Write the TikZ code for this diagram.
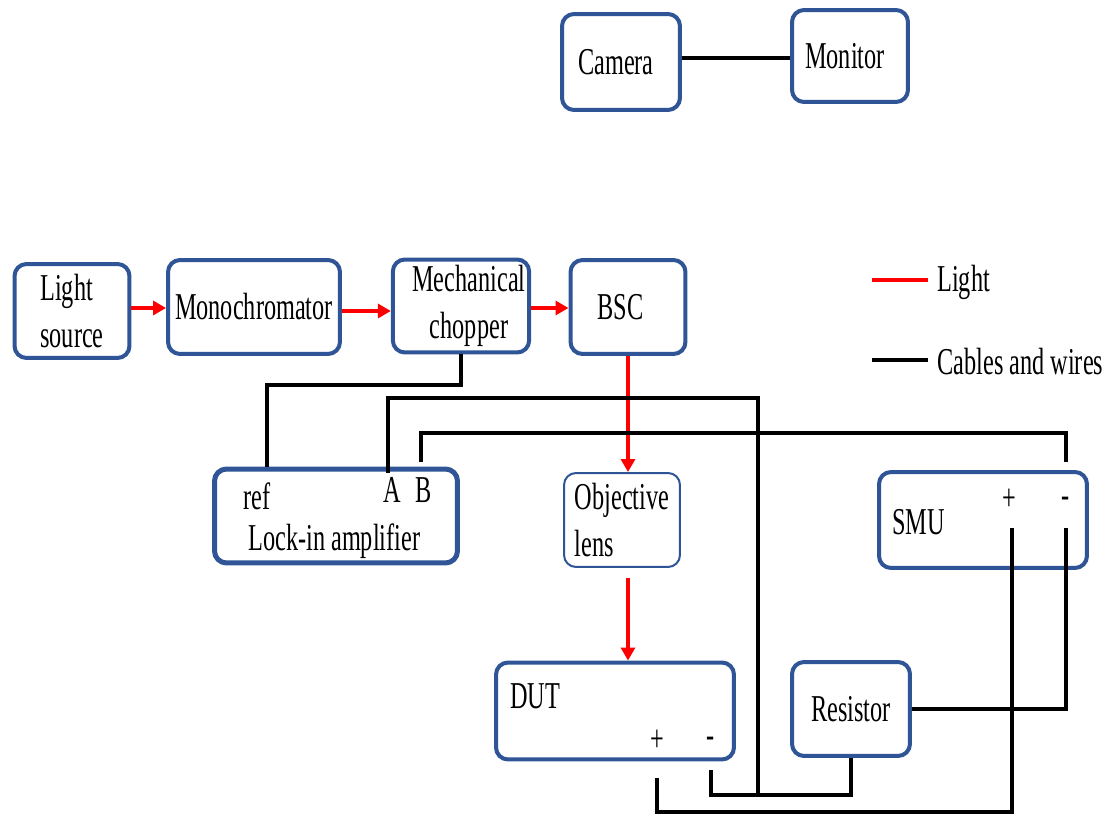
\documentclass[tikz,border=0pt]{standalone}
\usepackage{fontspec}
\setmainfont{Liberation Serif}[FakeStretch=0.64]
\usetikzlibrary{arrows.meta}

\definecolor{boxblue}{RGB}{47,85,151}

\tikzset{
  box/.style={draw=boxblue, line width=0.08cm, rounded corners=0.24cm, fill=white,
    align=left, inner sep=2pt},
  wire/.style={black, line width=0.08cm},
  light/.style={red, line width=0.07cm},
  lightarrow/.style={light, -{Triangle[length=0.26cm,width=0.28cm]}},
  txt/.style={inner sep=0pt, anchor=base west}
}

\begin{document}
\begin{tikzpicture}[x=0.02cm, y=-0.02cm,
  every node/.append style={font=\fontsize{21.6}{27}\selectfont}]

\useasboundingbox (0,0) rectangle (1110,820);

%camera and monitor
\node [box, minimum width=2.36cm, minimum height=1.92cm] (cam) at (621,62) {Camera\hspace*{0.2cm}};
\node [box, minimum width=2.32cm, minimum height=1.84cm] (mon) at (850,56) {Monitor\hspace*{0.2cm}};
\draw [wire] (cam.east |- 0,58) -- (mon.west |- 0,58);

%light path
\node [box, minimum width=2.3cm, minimum height=1.88cm] (ls) at (72,311) {Light\\source};
\node [box, minimum width=3.44cm, minimum height=1.88cm] (mono) at (254,307) {Monochromator};
\node [box, minimum width=2.66cm, minimum height=1.86cm, align=center] (chop) at (461,306) {\hspace*{0.32cm}Mechanical\\\hspace*{0.32cm}chopper};
\node [box, minimum width=2.3cm, minimum height=1.88cm] (bsc) at (628,307) {BSC\hspace*{0.3cm}};

\draw [lightarrow] (ls.east |- 0,308) -- (mono.west |- 0,308);
\draw [lightarrow] (mono.east |- 0,311) -- (chop.west |- 0,311);
\draw [lightarrow] (chop.east |- 0,308) -- (bsc.west |- 0,308);

%lock-in amplifier
\node [box, minimum width=4.86cm, minimum height=1.88cm, line width=0.1cm] (lockin) at (336,516) {};
\node [txt] (lref) at (243,510) {ref};
\node [txt] (la) at (383,503) {A};
\node [txt] (lb) at (415,503) {B};
\node [txt] (lname) at (248,551) {Lock-in amplifier};

%objective lens
\node [box, line width=0.04cm, minimum width=2.32cm, minimum height=1.88cm] (obj) at (622,520) {Objective\\lens};

%SMU
\node [box, minimum width=4.16cm, minimum height=1.92cm] (smu) at (983,520) {};
\node [txt] (sname) at (892,535) {SMU};
\node (splus) at (1009,500) {+};
\node (sminus) at (1066,502) {-};

%DUT
\node [box, minimum width=4.76cm, minimum height=1.94cm] (dut) at (615,711) {};
\node [txt] (dname) at (510,709) {DUT};
\node (dplus) at (657,741) {+};
\node (dminus) at (711,742) {-};

%resistor
\node [box, minimum width=2.36cm, minimum height=1.88cm] (res) at (851,709) {Resistor};

%light to the device
\draw [lightarrow] (bsc.south) -- (bsc.south |- obj.north);
\draw [lightarrow] ([yshift=-0.2cm]bsc.south |- obj.south) -- (bsc.south |- dut.north);

%pins
\coordinate (pinref) at (267,467);
\coordinate (pinA) at (388,473);
\coordinate (pinB) at (421,462);
\coordinate (smutop) at (1066,462);
\coordinate (smuplus) at (1012,528);
\coordinate (smuminus) at (1066,528);
\coordinate (dutplus) at (657,778);
\coordinate (dutminus) at (711,770);
\coordinate (jn) at (758,795);

%cables and wires
\draw [wire] (chop.south) -- (chop.south |- 0,385) -| (pinref);
\draw [wire] (pinA) -- (pinA |- 0,398) -| (jn);
\draw [wire] (pinB) -- (pinB |- 0,433) -| (smutop);
\draw [wire] (dutminus) |- (jn) -| (res.south);
\draw [wire] (smuplus) -- (smuplus |- 0,812) -| (dutplus);
\draw [wire] (smuminus) |- (res.east);

%legend
\coordinate (lg1a) at (872,280);
\coordinate (lg1b) at (928,280);
\coordinate (lg2a) at (872,360);
\coordinate (lg2b) at (928,360);
\draw [light] (lg1a) -- (lg1b);
\draw [wire] (lg2a) -- (lg2b);
\node [txt] (lglight) at (937,292) {Light};
\node [txt] (lgwire) at (937,375) {Cables and wires};

\end{tikzpicture}
\end{document}
